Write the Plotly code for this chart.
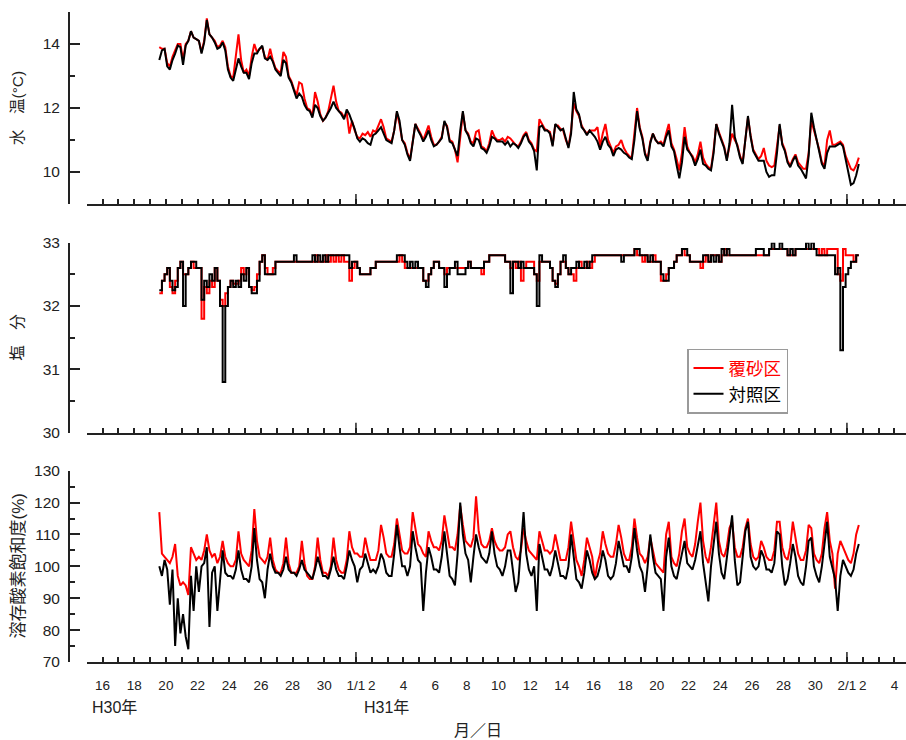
import pandas as pd
import plotly.graph_objects as go

# ---------------- data (4-hourly readings, 2018-12-19 14:00 .. 2019-02-01 18:00) ----------------
start_time = "2018-12-19 14:00"

temp_sand = [  # 覆砂区 水温
    13.9, 13.85, 13.85,
    13.4, 13.3, 13.6, 13.8, 14.0, 14.0,
    13.5, 14.0, 14.1, 14.4, 14.2, 14.15,
    14.1, 13.75, 14.1, 14.8, 14.3, 14.2,
    14.1, 13.9, 13.95, 14.1, 13.9, 13.3,
    13.0, 12.95, 13.6, 14.3, 13.5, 13.1,
    13.2, 13.0, 13.6, 14.0, 13.75, 13.85,
    13.9, 13.6, 13.5, 13.85, 13.5, 13.25,
    13.15, 13.1, 13.75, 13.6, 13.0, 12.85,
    12.6, 12.4, 12.8, 12.75, 12.3, 12.0,
    11.95, 11.75, 12.5, 12.2, 11.8, 11.6,
    11.7, 11.9, 12.3, 12.7, 12.2, 11.9,
    11.85, 11.7, 11.85, 11.2, 11.6, 11.3,
    11.1, 11.05, 11.2, 11.15, 11.25, 11.1,
    11.3, 11.25, 11.45, 11.65, 11.4, 11.05,
    11.0, 10.95, 11.3, 11.85, 11.5, 11.0,
    10.9, 10.6, 10.4, 11.0, 11.5, 11.35,
    11.2, 11.0, 11.25, 11.45, 11.1, 10.85,
    10.85, 10.95, 11.1, 11.55, 11.45, 11.0,
    10.95, 10.7, 10.3, 11.2, 11.85, 11.3,
    11.2, 10.95, 10.9, 11.25, 11.3, 10.8,
    10.75, 10.65, 10.9, 11.3, 11.1, 11.0,
    11.0, 11.05, 10.95, 11.1, 11.05, 10.95,
    10.85, 10.8, 10.95, 11.15, 11.25, 11.0,
    10.9, 10.7, 10.65, 11.65, 11.5, 11.35,
    11.3, 11.25, 10.85, 11.45, 11.45, 11.35,
    11.3, 11.0, 10.8, 11.3, 12.15, 11.9,
    11.75, 11.45, 11.3, 11.2, 11.3, 11.3,
    11.3, 11.4, 10.8, 11.2, 11.5, 11.0,
    10.8, 10.6, 10.8, 10.85, 11.0, 10.75,
    10.6, 10.5, 10.45, 11.2, 12.0, 11.4,
    11.1, 10.6, 10.4, 10.95, 11.2, 11.0,
    10.9, 10.95, 10.85, 11.2, 11.5, 10.9,
    10.7, 10.4, 10.05, 10.6, 11.4, 10.8,
    10.6, 10.5, 10.3, 10.55, 10.95, 10.45,
    10.25, 10.15, 10.1, 10.7, 11.5, 11.25,
    11.0, 10.8, 10.4, 10.85, 11.2, 11.0,
    10.85, 10.5, 10.3, 11.0, 11.7, 11.15,
    10.7, 10.55, 10.4, 10.5, 10.75, 10.35,
    10.2, 10.15, 10.2, 10.8, 11.45, 10.9,
    10.7, 10.35, 10.2, 10.4, 10.55, 10.3,
    10.2, 10.1, 10.1, 10.6, 11.6, 11.3,
    11.05, 10.7, 10.3, 10.2, 11.0, 11.3,
    10.85, 10.85, 10.9, 10.95, 10.85, 10.5,
    10.3, 10.1, 10.05, 10.2, 10.45,
]

temp_ctrl = [  # 対照区 水温
    13.5, 13.8, 13.85,
    13.3, 13.2, 13.5, 13.7, 13.95, 13.9,
    13.35, 13.95, 14.1, 14.4, 14.2, 14.15,
    14.1, 13.7, 14.05, 14.75, 14.3, 14.2,
    14.05, 13.85, 13.9, 14.05, 13.8, 13.2,
    12.95, 12.85, 13.2, 13.55, 13.3, 13.1,
    13.1, 12.9, 13.4, 13.7, 13.7, 13.85,
    13.95, 13.55, 13.5, 13.6, 13.45, 13.2,
    13.1, 13.0, 13.5, 13.4, 12.95, 12.8,
    12.55, 12.3, 12.45, 12.35, 12.1, 11.95,
    11.9, 11.7, 12.1, 12.0, 11.75, 11.6,
    11.7, 11.85, 12.0, 12.2, 12.0, 11.9,
    11.8, 11.65, 11.95, 11.8, 11.6, 11.35,
    11.05, 10.95, 11.05, 11.0, 10.9, 10.85,
    11.15, 11.2, 11.3, 11.4, 11.2, 11.0,
    10.95, 10.9, 11.3, 11.9, 11.6, 11.0,
    10.85, 10.55, 10.35, 10.9, 11.5, 11.3,
    11.15, 10.95, 11.1, 11.3, 11.0, 10.8,
    10.85, 10.95, 11.05, 11.6, 11.4, 10.95,
    10.9, 10.7, 10.5, 11.3, 11.9, 11.3,
    11.15, 10.9, 10.8, 11.05, 11.0, 10.75,
    10.7, 10.6, 10.8, 11.1, 11.05, 10.95,
    10.95, 10.95, 10.85, 10.95, 10.8, 10.9,
    10.85, 10.75, 10.9, 11.1, 11.2, 10.95,
    10.85, 10.65, 10.05, 11.4, 11.45, 11.3,
    11.3, 11.2, 10.8, 11.5, 11.4, 11.3,
    11.35, 11.0, 10.75, 11.2, 12.5, 11.95,
    11.8, 11.4, 11.3, 11.15, 11.3, 11.2,
    11.1, 10.95, 10.7, 10.95, 11.1, 10.85,
    10.75, 10.5, 10.7, 10.75, 10.7, 10.6,
    10.55, 10.45, 10.4, 11.0, 11.9, 11.35,
    11.05, 10.55, 10.35, 10.9, 11.2, 11.0,
    10.9, 10.9, 10.8, 11.1, 11.3, 10.8,
    10.65, 10.2, 9.8, 10.3, 11.1, 10.7,
    10.6, 10.45, 10.2, 10.4, 10.7, 10.25,
    10.2, 10.1, 10.05, 10.6, 11.5, 11.2,
    10.95, 10.75, 10.35, 10.9, 12.1, 11.1,
    10.8, 10.45, 10.25, 11.0, 11.75, 11.1,
    10.65, 10.5, 10.35, 10.35, 10.35, 10.0,
    9.85, 9.9, 9.9, 10.6, 11.5, 10.85,
    10.65, 10.3, 10.15, 10.35, 10.5, 10.2,
    10.1, 9.95, 9.8, 10.5, 11.85, 11.4,
    11.0, 10.6, 10.25, 10.1, 10.6, 10.8,
    10.8, 10.8, 10.85, 10.9, 10.8, 10.4,
    10.1, 9.6, 9.65, 9.9, 10.25,
]

sal_sand = [  # 覆砂区 塩分
    32.2, 32.4, 32.5,
    32.6, 32.3, 32.2, 32.4, 32.6, 32.7,
    32.5, 32.5, 32.6, 32.7, 32.6, 32.6,
    32.6, 31.8, 32.3, 32.2, 32.4, 32.3,
    32.6, 32.4, 32.1, 32.0, 32.2, 32.3,
    32.4, 32.35, 32.35, 32.4, 32.6, 32.5,
    32.6, 32.3, 32.25, 32.3, 32.5, 32.7,
    32.8, 32.6, 32.5, 32.5, 32.6, 32.7,
    32.7, 32.7, 32.7, 32.7, 32.7, 32.7,
    32.7, 32.7, 32.7, 32.7, 32.7, 32.7,
    32.7, 32.7, 32.8, 32.7, 32.7, 32.7,
    32.8, 32.7, 32.8, 32.7, 32.8, 32.7,
    32.8, 32.7, 32.7, 32.4, 32.6, 32.7,
    32.6, 32.5, 32.5, 32.5, 32.5, 32.6,
    32.6, 32.7, 32.7, 32.7, 32.7, 32.7,
    32.7, 32.7, 32.7, 32.7, 32.8, 32.7,
    32.6, 32.6, 32.6, 32.6, 32.6, 32.6,
    32.6, 32.4, 32.4, 32.5, 32.6, 32.7,
    32.7, 32.6, 32.6, 32.5, 32.6, 32.6,
    32.6, 32.6, 32.6, 32.6, 32.6, 32.6,
    32.7, 32.6, 32.6, 32.6, 32.6, 32.5,
    32.7, 32.7, 32.8, 32.8, 32.8, 32.8,
    32.8, 32.8, 32.7, 32.7, 32.6, 32.7,
    32.6, 32.7, 32.4, 32.6, 32.7, 32.7,
    32.7, 32.5, 32.4, 32.7, 32.7, 32.7,
    32.7, 32.6, 32.4, 32.35, 32.5, 32.7,
    32.7, 32.6, 32.5, 32.5, 32.4, 32.6,
    32.7, 32.6, 32.6, 32.7, 32.6, 32.7,
    32.8, 32.8, 32.8, 32.8, 32.8, 32.8,
    32.8, 32.8, 32.8, 32.8, 32.8, 32.8,
    32.8, 32.8, 32.8, 32.9, 32.8, 32.8,
    32.7, 32.8, 32.7, 32.7, 32.8, 32.7,
    32.7, 32.4, 32.4, 32.5, 32.6, 32.6,
    32.7, 32.8, 32.8, 32.9, 32.8, 32.8,
    32.7, 32.7, 32.7, 32.7, 32.6, 32.7,
    32.8, 32.7, 32.8, 32.8, 32.8, 32.7,
    32.8, 32.9, 32.8, 32.8, 32.8, 32.8,
    32.8, 32.8, 32.8, 32.8, 32.8, 32.8,
    32.8, 32.8, 32.8, 32.8, 32.8, 32.8,
    32.9, 32.9, 32.9, 32.9, 32.9, 32.9,
    32.9, 32.8, 32.8, 32.8, 32.9, 32.9,
    32.9, 32.9, 32.9, 32.9, 32.9, 32.9,
    32.9, 32.8, 32.9, 32.8, 32.9, 32.9,
    32.9, 32.9, 32.5, 32.4, 32.9, 32.8,
    32.8, 32.8, 32.7, 32.8, 32.8,
]

sal_ctrl = [  # 対照区 塩分
    32.25, 32.4, 32.5,
    32.6, 32.4, 32.25, 32.3, 32.6, 32.7,
    32.0, 32.5, 32.6, 32.7, 32.7, 32.6,
    32.6, 32.1, 32.4, 32.3, 32.5, 32.4,
    32.6, 32.4, 32.0, 30.8, 32.0, 32.3,
    32.4, 32.3, 32.4, 32.3, 32.5, 32.4,
    32.6, 32.3, 32.2, 32.2, 32.4, 32.7,
    32.8, 32.5, 32.5, 32.5, 32.5, 32.7,
    32.7, 32.7, 32.7, 32.7, 32.7, 32.7,
    32.8, 32.7, 32.7, 32.7, 32.7, 32.7,
    32.7, 32.8, 32.7, 32.8, 32.7, 32.8,
    32.7, 32.8, 32.8, 32.8, 32.8, 32.8,
    32.8, 32.8, 32.8, 32.6, 32.7, 32.7,
    32.6, 32.5, 32.5, 32.5, 32.5, 32.6,
    32.6, 32.7, 32.7, 32.7, 32.7, 32.7,
    32.7, 32.7, 32.7, 32.8, 32.8, 32.8,
    32.7, 32.6, 32.7, 32.6, 32.7, 32.6,
    32.6, 32.4, 32.3, 32.5, 32.6, 32.7,
    32.7, 32.6, 32.6, 32.3, 32.5, 32.6,
    32.6, 32.7, 32.5, 32.5, 32.5, 32.6,
    32.7, 32.6, 32.6, 32.6, 32.6, 32.6,
    32.7, 32.7, 32.8, 32.8, 32.8, 32.8,
    32.8, 32.8, 32.7, 32.7, 32.2, 32.7,
    32.7, 32.6, 32.7, 32.6, 32.6, 32.6,
    32.6, 32.5, 32.0, 32.8, 32.7, 32.7,
    32.7, 32.6, 32.4, 32.3, 32.5, 32.7,
    32.8, 32.6, 32.5, 32.6, 32.6, 32.7,
    32.6, 32.6, 32.7, 32.6, 32.7, 32.8,
    32.8, 32.8, 32.8, 32.8, 32.8, 32.8,
    32.8, 32.8, 32.8, 32.8, 32.7, 32.8,
    32.8, 32.8, 32.8, 32.9, 32.9, 32.8,
    32.8, 32.8, 32.7, 32.8, 32.7, 32.7,
    32.7, 32.5, 32.4, 32.4, 32.6, 32.6,
    32.7, 32.8, 32.8, 32.9, 32.9, 32.8,
    32.7, 32.7, 32.7, 32.7, 32.7, 32.8,
    32.8, 32.7, 32.8, 32.7, 32.8, 32.7,
    32.9, 32.8, 32.9, 32.8, 32.8, 32.8,
    32.8, 32.8, 32.8, 32.8, 32.8, 32.8,
    32.8, 32.9, 32.9, 32.9, 32.8, 32.8,
    32.9, 33.0, 32.9, 32.9, 33.0, 32.9,
    32.9, 32.8, 32.9, 32.8, 32.9, 32.9,
    32.9, 32.9, 33.0, 32.9, 33.0, 32.9,
    32.8, 32.8, 32.8, 32.8, 32.8, 32.8,
    32.8, 32.5, 32.6, 31.3, 32.3, 32.5,
    32.6, 32.7, 32.7, 32.8, 32.8,
]

do_sand = [  # 覆砂区 溶存酸素飽和度
    117, 104, 103,
    102, 101, 103, 107, 97, 94,
    95, 94, 91, 106, 104, 102,
    103, 102, 105, 110, 105, 103,
    104, 101, 103, 108, 103, 101,
    100, 100, 102, 111, 104, 102,
    101, 100, 105, 118, 108, 103,
    102, 101, 103, 109, 102, 99,
    98, 98, 101, 109, 101, 98,
    98, 98, 100, 108, 101, 97,
    96, 96, 100, 109, 102, 98,
    98, 97, 100, 109, 102, 99,
    98, 98, 102, 111, 106, 104,
    104, 103, 103, 109, 105, 102,
    102, 102, 105, 113, 109, 104,
    103, 103, 107, 115, 110, 105,
    104, 104, 106, 117, 112, 107,
    106, 104, 103, 111, 108, 106,
    106, 105, 108, 116, 111, 106,
    106, 105, 110, 119, 113, 108,
    107, 106, 109, 122, 111, 107,
    106, 106, 108, 112, 108, 106,
    105, 105, 106, 110, 111, 106,
    103, 102, 105, 112, 108, 105,
    104, 103, 102, 111, 108, 105,
    105, 104, 105, 110, 106, 102,
    102, 102, 106, 114, 108, 102,
    100, 97, 102, 109, 106, 103,
    96, 101, 104, 111, 107, 104,
    103, 103, 107, 113, 109, 104,
    102, 102, 106, 115, 109, 104,
    103, 101, 103, 109, 105, 101,
    100, 99, 98, 110, 114, 103,
    101, 100, 104, 111, 115, 106,
    104, 103, 107, 114, 120, 108,
    103, 101, 106, 113, 120, 108,
    104, 103, 106, 112, 114, 106,
    103, 103, 106, 112, 115, 107,
    103, 102, 103, 108, 106, 103,
    102, 102, 105, 114, 114, 106,
    103, 102, 106, 114, 109, 104,
    102, 102, 105, 113, 112, 104,
    102, 101, 104, 112, 117, 108,
    104, 93, 104, 108, 106, 104,
    102, 101, 104, 110, 113,
]

do_ctrl = [  # 対照区 溶存酸素飽和度
    100, 97, 102,
    99, 88, 99, 75, 90, 79,
    85, 78, 74, 97, 86, 100,
    92, 100, 101, 106, 81, 98,
    100, 86, 97, 105, 98, 97,
    97, 96, 99, 105, 99, 96,
    96, 95, 100, 112, 102, 96,
    95, 90, 99, 104, 100, 98,
    98, 97, 99, 103, 99, 98,
    98, 97, 99, 102, 99, 98,
    97, 96, 99, 103, 100, 97,
    97, 96, 99, 103, 99, 97,
    97, 96, 100, 105, 102, 100,
    95, 99, 100, 104, 101, 98,
    99, 98, 100, 104, 102, 98,
    97, 97, 104, 113, 106, 100,
    100, 97, 100, 111, 106, 102,
    101, 86, 98, 106, 103, 99,
    99, 98, 103, 111, 104, 97,
    96, 94, 104, 120, 110, 104,
    102, 95, 103, 110, 106, 103,
    102, 101, 104, 111, 104, 100,
    99, 97, 100, 105, 105, 98,
    92, 95, 105, 117, 104, 99,
    97, 100, 86, 107, 103, 99,
    99, 97, 100, 105, 101, 97,
    97, 96, 100, 110, 103, 96,
    95, 93, 98, 105, 102, 98,
    96, 97, 100, 105, 102, 97,
    96, 97, 101, 108, 104, 100,
    100, 98, 103, 112, 105, 100,
    98, 92, 100, 110, 103, 98,
    97, 96, 86, 103, 109, 100,
    97, 96, 100, 104, 108, 101,
    100, 99, 102, 107, 111, 101,
    94, 89, 100, 108, 114, 104,
    98, 96, 103, 111, 116, 102,
    94, 95, 102, 111, 114, 103,
    100, 99, 100, 105, 103, 99,
    99, 98, 101, 111, 110, 100,
    94, 96, 101, 107, 103, 97,
    95, 94, 100, 108, 109, 100,
    97, 95, 100, 108, 114, 103,
    99, 96, 86, 97, 102, 100,
    98, 97, 99, 104, 107,
]

series_names = ["覆砂区", "対照区"]
series_colors = ["#ff0000", "#000000"]

# x-axis tick labels (month/day)
tick_days = pd.date_range("2018-12-15", "2019-02-04", freq="D")
tick_label_map = {
    "2018-12-16": "16", "2018-12-18": "18", "2018-12-20": "20", "2018-12-22": "22",
    "2018-12-24": "24", "2018-12-26": "26", "2018-12-28": "28", "2018-12-30": "30",
    "2019-01-01": "1/1", "2019-01-02": "2", "2019-01-04": "4", "2019-01-06": "6",
    "2019-01-08": "8", "2019-01-10": "10", "2019-01-12": "12", "2019-01-14": "14",
    "2019-01-16": "16", "2019-01-18": "18", "2019-01-20": "20", "2019-01-22": "22",
    "2019-01-24": "24", "2019-01-26": "26", "2019-01-28": "28", "2019-01-30": "30",
    "2019-02-01": "2/1", "2019-02-02": "2", "2019-02-04": "4",
}
month_starts = ["2019-01-01", "2019-02-01"]

# ---------------- figure ----------------
times = pd.date_range(start_time, periods=len(do_sand), freq="4h")

FONT = "Liberation Sans, Arial, Noto Sans CJK JP, sans-serif"
TXT = "#222222"
AX = "#222222"

fig = go.Figure()
panels = [
    (temp_sand, temp_ctrl, "x", "y", "linear"),
    (sal_sand, sal_ctrl, "x2", "y2", "hv"),
    (do_sand, do_ctrl, "x3", "y3", "linear"),
]
for pi, (a, b, xa, ya, shape) in enumerate(panels):
    for si, vals in enumerate([a, b]):
        fig.add_trace(go.Scatter(
            x=times, y=vals, mode="lines", xaxis=xa, yaxis=ya,
            line=dict(color=series_colors[si], width=2, shape=shape),
            name=f'<span style="color:{series_colors[si]}">{series_names[si]}</span>',
            showlegend=(pi == 0),
        ))

W, H = 906, 740
ML, MR, MT, MB = 69, 0, 12, 78
pw, ph = W - ML - MR, H - MT - MB
px0 = 86.7
xdom = [(px0 - ML) / pw, 1.0]
xrange_ = ["2018-12-15", "2019-02-04 17:30"]

def ydom(top, bot):
    return [(H - MB - bot) / ph, (H - MB - top) / ph]

ydoms = [ydom(12, 204), ydom(242.7, 432.7), ydom(470.7, 662)]
yranges = [[9, 15], [30, 33], [70, 130]]
ydticks = [2, 1, 10]
yminor = [1, 0.5, 5]

tickvals = list(tick_days)
ticktext = [tick_label_map.get(d.strftime("%Y-%m-%d"), "") for d in tick_days]

layout = dict(
    width=W, height=H,
    margin=dict(l=ML, r=MR, t=MT, b=MB),
    paper_bgcolor="white", plot_bgcolor="white",
    font=dict(family=FONT, color=TXT, size=15),
    showlegend=True,
    legend=dict(
        x=(687 - ML) / pw, y=(H - MB - 348.7) / ph, xanchor="left", yanchor="top",
        bordercolor="#9a9a9a", borderwidth=1.5, bgcolor="white",
        font=dict(size=17.5, family=FONT), itemwidth=30,
        tracegroupgap=0,
    ),
)
for i in range(3):
    sx = "" if i == 0 else str(i + 1)
    layout["xaxis" + sx] = dict(
        domain=xdom, range=xrange_, anchor="y" + sx, type="date",
        showline=True, linecolor=AX, linewidth=2,
        ticks="inside", ticklen=5, tickwidth=1.5, tickcolor=AX,
        tickmode="array", tickvals=tickvals, ticktext=ticktext,
        showticklabels=(i == 2), tickfont=dict(size=13.5, color=TXT),
        ticklabelstandoff=10,
        showgrid=False, zeroline=False,
    )
    layout["yaxis" + sx] = dict(
        domain=ydoms[i], range=yranges[i], anchor="free", position=0,
        showline=True, linecolor=AX, linewidth=2,
        ticks="inside", ticklen=10, tickwidth=1.5, tickcolor=AX,
        dtick=ydticks[i], tick0=0,
        minor=dict(dtick=yminor[i], tick0=0, ticks="inside", ticklen=5, tickwidth=1.5, tickcolor=AX),
        tickfont=dict(size=15.5, color=TXT), ticklabelstandoff=5,
        showgrid=False, zeroline=False,
    )
fig.update_layout(**layout)

# longer ticks at month starts
shapes = []
for i in range(3):
    sx = "" if i == 0 else str(i + 1)
    hpx = (ydoms[i][1] - ydoms[i][0]) * ph
    for m in month_starts:
        shapes.append(dict(type="line", xref="x" + sx, yref="y" + sx + " domain",
                           x0=m, x1=m, y0=0, y1=10 / hpx,
                           line=dict(color=AX, width=1.5)))
fig.update_layout(shapes=shapes)

def xp(px):
    return (px - ML) / pw

def yp(py):
    return (H - MB - py) / ph

annotations = [
    dict(text="水　温(°C)", x=xp(18), y=yp(108), textangle=-90, font=dict(size=15.5)),
    dict(text="塩　分", x=xp(18), y=yp(337.7), textangle=-90, font=dict(size=15.5)),
    dict(text="溶存酸素飽和度(%)", x=xp(17.5), y=yp(566), textangle=-90, font=dict(size=17)),
    dict(text="H30年", x=xp(114.5), y=yp(707), font=dict(size=16)),
    dict(text="H31年", x=xp(386.7), y=yp(707), font=dict(size=16)),
    dict(text="月／日", x=xp(477.5), y=yp(730), font=dict(size=16)),
]
for an in annotations:
    an.update(xref="paper", yref="paper", showarrow=False, xanchor="center", yanchor="middle")
fig.update_layout(annotations=annotations)

fig.write_html("out.html", config={"displayModeBar": False},
               post_script="document.body.style.margin='0';")
